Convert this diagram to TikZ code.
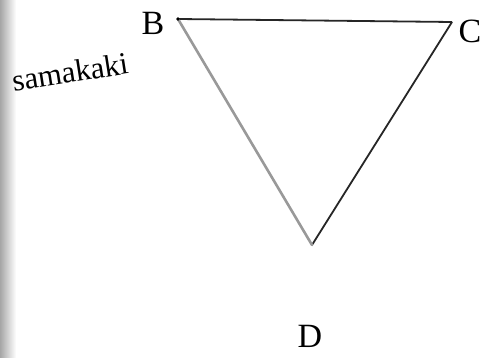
\documentclass[tikz,border=0pt]{standalone}
\usepackage{fontspec}
\setmainfont{Liberation Serif}
\begin{document}
\begin{tikzpicture}[x=1pt,y=-1pt,
  lbl/.style={inner sep=0pt,font=\fontsize{34}{36}\selectfont},
  edge/.style={line width=1.8pt,black!85},
  fadeedge/.style={line width=2.6pt,black!40}]
\useasboundingbox (0,0) rectangle (485,358);
\fill[white] (0,0) rectangle (485,358);
\shade[left color=black!35,right color=white] (0,0) rectangle (16,358);
\coordinate (b) at (178,19);
\coordinate (c) at (452,22);
\coordinate (d) at (312,245);
\node[lbl] (B) at (153,23) {B};
\node[lbl] (C) at (470,31) {C};
\node[lbl] (D) at (310,336) {D};
\node[inner sep=0pt,font=\fontsize{31}{33}\selectfont,rotate=9] (s) at (70,72) {samakaki};
\draw[edge] (b) -- (c);
\draw[edge] (c) -- (d);
\draw[fadeedge,line cap=round] (b) -- (d);
\fill[black] (b) circle (1.8pt);
\end{tikzpicture}
\end{document}
